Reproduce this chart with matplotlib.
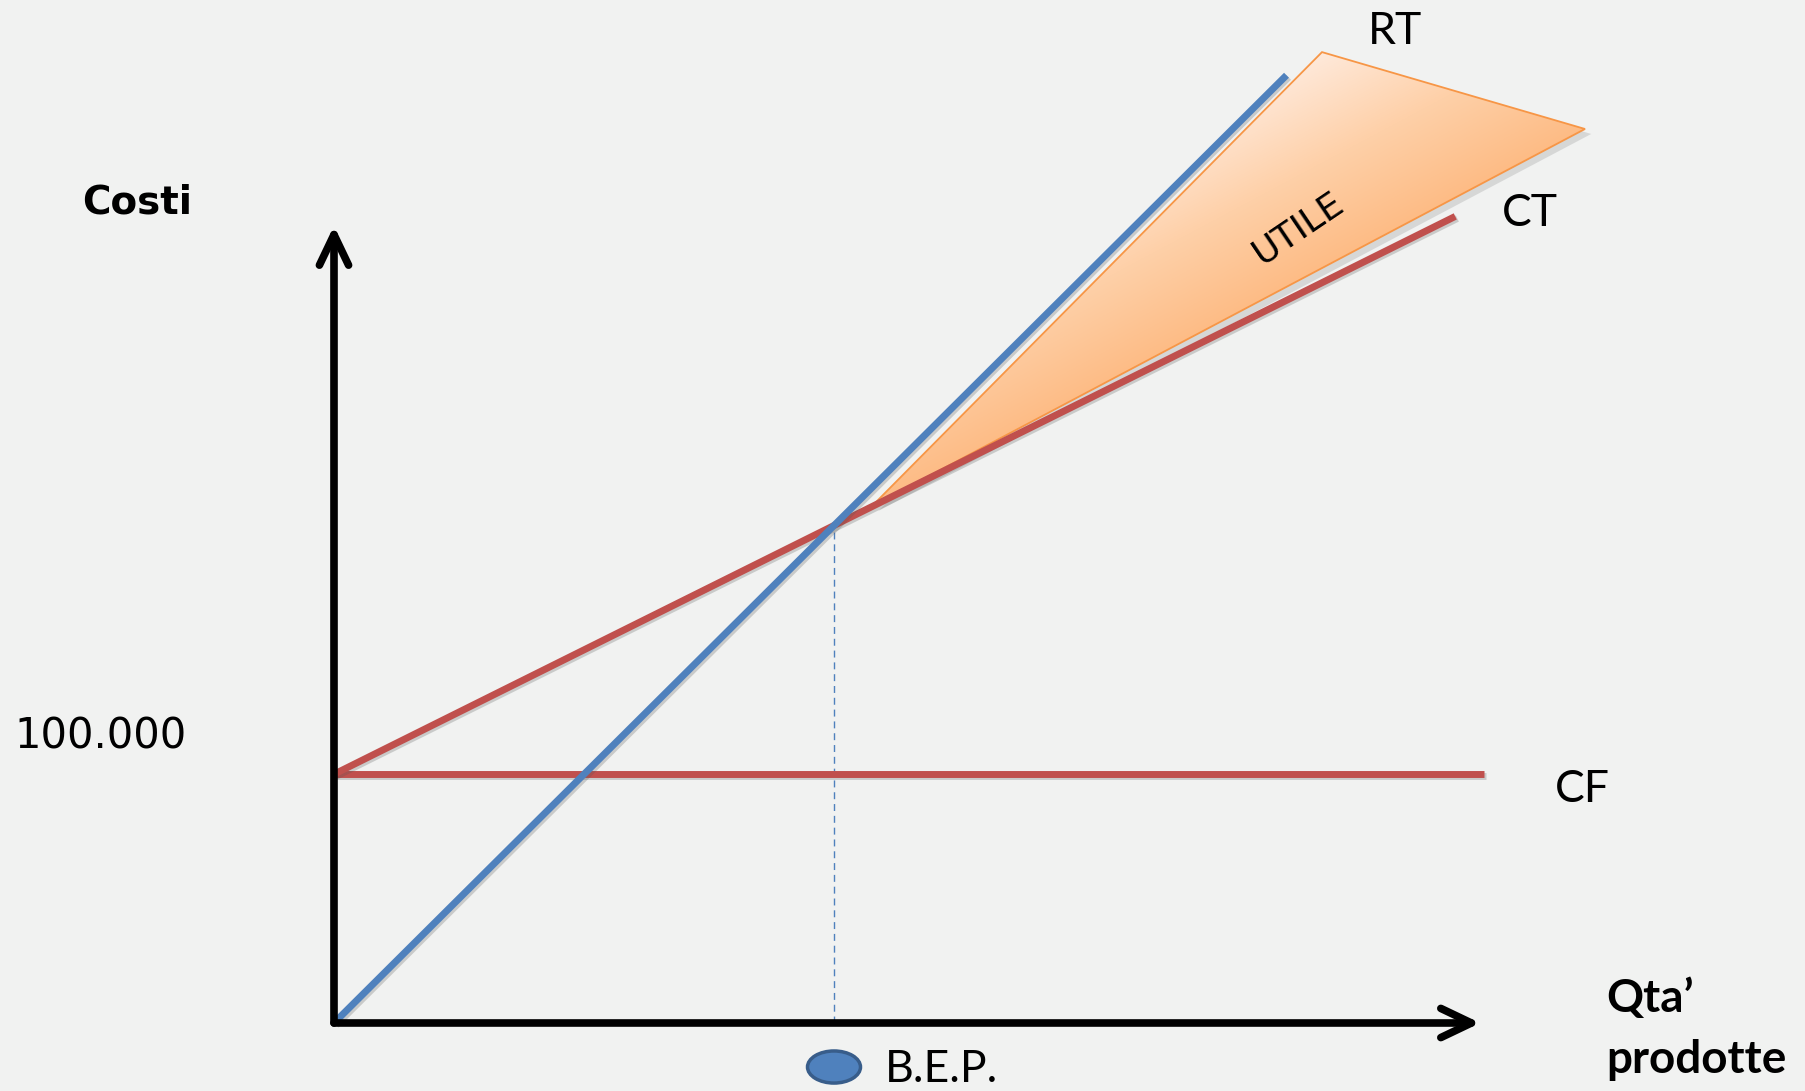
import numpy as np
import matplotlib
matplotlib.use("Agg")
import matplotlib.pyplot as plt
import matplotlib.patheffects as pe
from matplotlib.patches import Polygon, Ellipse
from matplotlib.colors import LinearSegmentedColormap

# ---------- break-even model ----------
FIXED_COST = 100000        # CF
PRICE = 100                # revenue per unit
UNIT_VAR_COST = 50         # variable cost per unit
BEP_Q = FIXED_COST / (PRICE - UNIT_VAR_COST)
BEP_VALUE = PRICE * BEP_Q

RT_Q = np.array([0, 3810])          # revenue line extent
CT_Q = np.array([0, 4485])          # total cost line extent
CF_Q = np.array([0, 4600])          # fixed cost line extent
AXIS_Q_END = 4585
AXIS_V_END = 320500

# profit wedge (UTILE)
UTILE_Q = np.array([2152, 3952, 5004])
UTILE_V = np.array([207800, 390300, 359400])

BG = "#f1f2f1"
BLUE = "#4f81bd"
RED = "#c0504d"
ORANGE = "#f79646"
CALIBRI = ["Lato", "DejaVu Sans"]

fig = plt.figure(figsize=(18.06, 10.91), dpi=100)
fig.patch.set_facecolor(BG)
ax = fig.add_axes([0, 0, 1, 1])
ax.set_xlim(-1336, 5888)
ax.set_ylim(-27340, 411250)
ax.axis("off")

shadow = [pe.SimpleLineShadow(offset=(1.5, -1.5), alpha=0.25,
                              shadow_color="#555555"), pe.Normal()]

# ---------- profit wedge with gradient ----------
ax.add_patch(Polygon(np.column_stack([UTILE_Q + 25, UTILE_V - 2000]),
                     closed=True, facecolor="#888888", alpha=0.25,
                     edgecolor="none", zorder=1.9))
wedge = Polygon(np.column_stack([UTILE_Q, UTILE_V]), closed=True,
                facecolor="none", edgecolor=ORANGE, lw=1.3, zorder=3)
ax.add_patch(wedge)

# shade across the wedge: light at the top corner, deeper toward the CT side
gx, gy = np.meshgrid(np.linspace(0, 1, 300), np.linspace(0, 1, 300))
grad = 335 * gx + 400 * gy
grad = np.clip((grad - 211) / 195, 0, 1)
cmap = LinearSegmentedColormap.from_list(
    "utile", ["#ffe9da", "#fed0a8", "#fdbb84"])
im = ax.imshow(grad, cmap=cmap,
               extent=(UTILE_Q.min(), UTILE_Q.max(),
                       UTILE_V.min(), UTILE_V.max()),
               origin="upper", aspect="auto", zorder=2,
               interpolation="bilinear")
im.set_clip_path(wedge)

# ---------- cost / revenue lines ----------
ax.plot(CF_Q, [FIXED_COST, FIXED_COST], color=RED, lw=5, zorder=4,
        solid_capstyle="butt", path_effects=shadow)
ax.plot(CT_Q, FIXED_COST + UNIT_VAR_COST * CT_Q, color=RED, lw=5, zorder=4,
        solid_capstyle="butt", path_effects=shadow)
ax.plot(RT_Q, PRICE * RT_Q, color=BLUE, lw=5, zorder=5,
        solid_capstyle="butt", path_effects=shadow)

# break-even drop line
ax.plot([BEP_Q, BEP_Q], [0, BEP_VALUE], color=BLUE, lw=1, zorder=3,
        dashes=(5, 3.5))

# ---------- axes with open arrowheads ----------
arrow = dict(arrowstyle="->,head_length=2.2,head_width=1.05", lw=5.5,
             color="black", shrinkA=0, shrinkB=0, mutation_scale=10,
             capstyle="round", joinstyle="round")
ax.annotate("", xy=(0, AXIS_V_END), xytext=(0, 0), arrowprops=arrow,
            zorder=6)
ax.annotate("", xy=(AXIS_Q_END, 0), xytext=(0, 0), arrowprops=arrow,
            zorder=6)

# ---------- B.E.P. marker ----------
ax.add_patch(Ellipse((BEP_Q, -17700), 212, 12900, facecolor=BLUE,
                     edgecolor="#385d8a", lw=2.5, zorder=6))

# ---------- text ----------
ax.text(-788, 330000, "Costi", fontsize=28, fontweight="bold",
        family="DejaVu Sans", ha="center", va="center")
ax.text(-932, 115000, "100.000", fontsize=30, family="DejaVu Sans",
        ha="center", va="center")
ax.text(4244, 398400, "RT", fontsize=32, family=CALIBRI,
        ha="center", va="center")
ax.text(4784, 325600, "CT", fontsize=32, family=CALIBRI,
        ha="center", va="center")
ax.text(4992, 94000, "CF", fontsize=32, family=CALIBRI,
        ha="center", va="center")
ax.text(5090, 4400, "Qta\u2019", fontsize=33, fontweight="bold",
        family=CALIBRI, ha="left", va="baseline")
ax.text(5090, -20100, "prodotte", fontsize=33, fontweight="bold",
        family=CALIBRI, ha="left", va="baseline")
ax.text(2204, -23700, "B.E.P.", fontsize=32, family=CALIBRI,
        ha="left", va="baseline")
ax.text(3856, 319600, "UTILE", fontsize=26, family="DejaVu Sans",
        rotation=34, rotation_mode="anchor", ha="center", va="center",
        zorder=7)

fig.savefig("out.png", dpi=100, facecolor=BG)
